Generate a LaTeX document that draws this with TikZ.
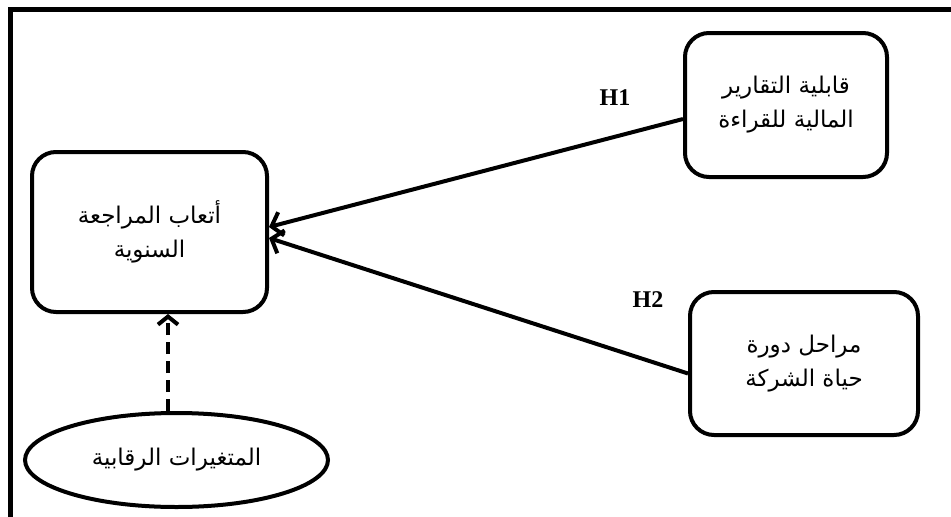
\documentclass[tikz,border=0pt]{standalone}
\usepackage{fontspec}
\setmainfont{Liberation Serif}
\newfontfamily\arabicfont[Script=Arabic]{DejaVu Sans}
\TeXXeTstate=1
\usetikzlibrary{arrows.meta,shapes.geometric,shadows}
\begin{document}
\begin{tikzpicture}[x=1pt,y=-1pt,
  boxstyle/.style={draw,fill=white,line width=4pt,rounded corners=24pt,align=center,
    font=\arabicfont\fontsize{23}{34}\selectfont,inner sep=0pt,
    drop shadow={shadow xshift=1.5pt,shadow yshift=-1.5pt,opacity=0.25,fill=gray}},
  ovalstyle/.style={draw,fill=white,ellipse,line width=4pt,align=center,inner sep=0pt,
    font=\arabicfont\fontsize{23}{34}\selectfont},
  hlabel/.style={font=\fontsize{24}{28}\selectfont\bfseries,inner sep=0pt},
  arr/.style={line width=4pt,-{Straight Barb[length=10pt,width=24pt]}},
  dasharr/.style={line width=4pt,dash pattern=on 12pt off 7pt,-{Straight Barb[length=8pt,width=20pt]}}
]
\useasboundingbox (0,0) rectangle (951,517);
\fill[white] (0,0) rectangle (951,517);
\draw[line width=5pt] (10.5,517) -- (10.5,9.5) -- (951,9.5);

\node[boxstyle,minimum width=235pt,minimum height=160pt] (fees) at (149.5,232)
  {\beginR أتعاب المراجعة\endR\\\beginR السنوية\endR};
\node[boxstyle,minimum width=202pt,minimum height=144pt] (read) at (786,105)
  {\beginR قابلية التقارير\endR\\\beginR المالية للقراءة\endR};
\node[boxstyle,minimum width=228pt,minimum height=143pt] (life) at (804,363.5)
  {\beginR مراحل دورة\endR\\\beginR حياة الشركة\endR};
\node[ovalstyle,minimum width=303pt,minimum height=94pt] (ctrl) at (176.5,460)
  {\beginR المتغيرات الرقابية\endR};

\draw[arr] ([yshift=-14pt]read.west) -- ([yshift=5pt]fees.east);
\draw[arr] ([yshift=-10pt]life.west) -- ([yshift=-6pt]fees.east);
\draw[dasharr] ([xshift=-8.5pt]ctrl.north) -- ([xshift=18.5pt]fees.south);

\node[hlabel] (h1) at (615,98) {H1};
\node[hlabel] (h2) at (648,300) {H2};
\end{tikzpicture}
\end{document}
